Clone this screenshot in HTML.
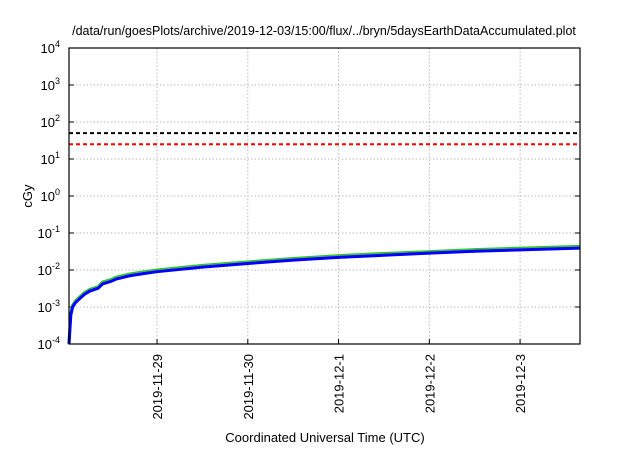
<!DOCTYPE html>
<html><head><meta charset="utf-8"><style>
body{margin:0;background:#fff;}
svg{font-family:"Liberation Sans",sans-serif;}
</style></head><body>
<svg width="640" height="448">
<text x="324" y="35" font-size="12.5" text-anchor="middle">/data/run/goesPlots/archive/2019-12-03/15:00/flux/../bryn/5daysEarthDataAccumulated.plot</text>
<g id="grid"></g><g id="axes"></g><g id="series"></g>
<rect x="69" y="48" width="511" height="296" fill="none" stroke="#000" stroke-width="1.2"/>
<text transform="translate(32,196) rotate(-90)" font-size="13" text-anchor="middle">cGy</text>
<text x="325" y="442" font-size="13" text-anchor="middle">Coordinated Universal Time (UTC)</text>
</svg>
<script>
const xTickLabels=["2019-11-29","2019-11-30","2019-12-1","2019-12-2","2019-12-3"];
const xTickDays=[0,1,2,3,4];
const yExponents=[-4,-3,-2,-1,0,1,2,3,4];
const times=[-0.97,-0.95,-0.93,-0.9,-0.85,-0.8,-0.74,-0.65,-0.6,-0.5,-0.45,-0.3,-0.15,0,0.5,1,1.5,2,2.5,3,3.5,4,4.66];
const blueVals=[1e-4,6e-4,1e-3,1.3e-3,1.7e-3,2.2e-3,2.7e-3,3.2e-3,4.2e-3,5e-3,5.7e-3,7e-3,8e-3,9e-3,1.2e-2,1.5e-2,1.85e-2,2.2e-2,2.5e-2,2.85e-2,3.2e-2,3.5e-2,3.9e-2];
const greenVals=[1.1e-4,6.8e-4,1.12e-3,1.45e-3,1.9e-3,2.45e-3,3e-3,3.55e-3,4.7e-3,5.6e-3,6.4e-3,7.8e-3,8.9e-3,1e-2,1.33e-2,1.66e-2,2.05e-2,2.45e-2,2.8e-2,3.15e-2,3.55e-2,3.9e-2,4.35e-2];
const grayVals=[1.05e-4,6.4e-4,1.06e-3,1.38e-3,1.8e-3,2.33e-3,2.85e-3,3.4e-3,4.45e-3,5.3e-3,6e-3,7.4e-3,8.5e-3,9.5e-3,1.27e-2,1.58e-2,1.95e-2,2.33e-2,2.65e-2,3e-2,3.38e-2,3.7e-2,4.1e-2];
const thresholdBlack=50, thresholdRed=25;
const X0=69,X1=580,Y0=344,Y1=48,T0=-0.97,T1=4.66;
const xs=t=>X0+(t-T0)/(T1-T0)*(X1-X0);
const ys=v=>Y0-(Math.log10(v)+4)/8*(Y0-Y1);
const NS="http://www.w3.org/2000/svg";
function mk(tag,attrs,parent,text){const e=document.createElementNS(NS,tag);for(const k in attrs)e.setAttribute(k,attrs[k]);if(text!==undefined)e.textContent=text;document.getElementById(parent).appendChild(e);return e;}
yExponents.forEach(p=>{const y=ys(Math.pow(10,p));
 if(p>-4&&p<4){const g=mk("line",{x1:X0,x2:X1,y1:y,y2:y,stroke:"#bbb","stroke-dasharray":"1.5,2","stroke-width":1},"grid");
 
 
 const t1=mk("line",{x1:X0,x2:X0+5,y1:y,y2:y,stroke:"#000"},"axes");
 
 
 const t2=mk("line",{x1:X1-5,x2:X1,y1:y,y2:y,stroke:"#000"},"axes");
 
 }
 const tx=mk("text",{x:60,y:y+5,"font-size":13,"text-anchor":"end"},"axes");
 
 
 tx.innerHTML='10<tspan dy="-6" font-size="9">'+p+'</tspan>';
});
xTickDays.forEach((d,i)=>{const x=xs(d);
 const g=mk("line",{x1:x,x2:x,y1:Y1,y2:Y0,stroke:"#bbb","stroke-dasharray":"1.5,2"},"grid");
 
 
 const t=mk("line",{x1:x,x2:x,y1:Y0-5,y2:Y0,stroke:"#000"},"axes");
 
 
 const l=mk("text",{transform:"translate("+(x+5)+","+(Y0+10)+") rotate(-90)","font-size":13,"text-anchor":"end"},"axes",xTickLabels[i]);
 
 
});
[[thresholdBlack,"#000","threshold-50"],[thresholdRed,"#f00","threshold-25"]].forEach(([v,c,n])=>{
 const l=mk("line",{x1:X0,x2:X1,y1:ys(v),y2:ys(v),stroke:c,"stroke-width":2,"stroke-dasharray":"4,3"},"series");
 
 
});
[[greenVals,"#22cc22","series-green",3],[grayVals,"#999","series-gray",2],[blueVals,"#0000ff","series-blue",3]].forEach(([vals,c,n,w])=>{
 const p=mk("polyline",{points:times.map((t,i)=>xs(t)+","+ys(vals[i])).join(" "),fill:"none",stroke:c,"stroke-width":w},"series");
 
 
});
</script>
</body></html>
